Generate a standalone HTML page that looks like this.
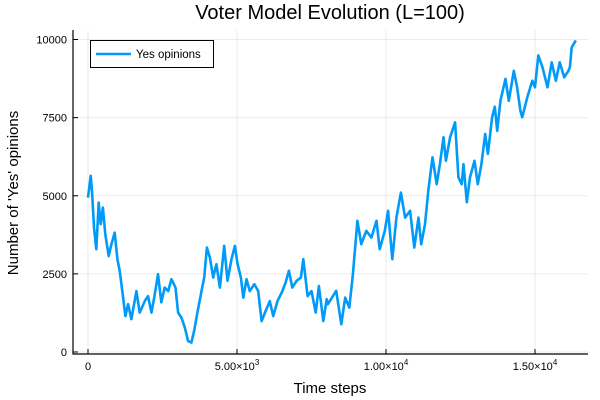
<!DOCTYPE html>
<html><head><meta charset="utf-8"><style>
html,body{margin:0;padding:0;background:#fff;}
svg{display:block;font-family:"Liberation Sans","DejaVu Sans",sans-serif;}
</style></head><body>
<svg id="chart" width="600" height="400" viewBox="0 0 600 400">
<text x="330" y="19" text-anchor="middle" font-size="20" fill="#000">Voter Model Evolution (L=100)</text>
<g id="grid"></g>
<g id="axes"></g>
<path id="series" fill="none" stroke="#009af9" stroke-width="2.6" stroke-linejoin="round"/>
<text x="330" y="393" text-anchor="middle" font-size="15">Time steps</text>
<text transform="translate(18,193) rotate(-90)" text-anchor="middle" font-size="15">Number of 'Yes' opinions</text>
<g>
<rect x="90.5" y="40.5" width="123" height="27" fill="#fff" stroke="#000" stroke-width="1"/>
<line x1="96" y1="54" x2="131" y2="54" stroke="#009af9" stroke-width="2.6"/>
<text x="136" y="58" font-size="11.5">Yes opinions</text>
</g>
</svg>
<script>
const steps=[0,90,135,200,280,360,425,500,580,695,785,895,985,1065,1150,1255,1345,1455,1625,1735,1905,2015,2130,2240,2350,2460,2575,2690,2800,2935,3025,3135,3250,3360,3470,3560,3670,3810,3900,3990,4090,4200,4310,4425,4570,4680,4815,4930,5020,5130,5210,5320,5430,5580,5710,5825,5960,6100,6215,6360,6500,6630,6740,6855,7000,7145,7225,7370,7500,7640,7750,7895,8010,8050,8330,8500,8630,8770,8890,9040,9170,9340,9510,9680,9790,9960,10070,10210,10350,10500,10640,10810,10950,11090,11180,11310,11420,11560,11700,11810,11930,12010,12150,12320,12430,12540,12600,12710,12820,12970,13080,13200,13330,13420,13560,13650,13730,13840,14010,14120,14290,14400,14510,14570,14740,14910,15000,15110,15250,15420,15560,15700,15830,15980,16120,16170,16230,16370];
const yesCounts=[4940,5640,5150,3980,3290,4780,4090,4620,3770,3070,3450,3820,2970,2600,1950,1150,1530,1050,1950,1260,1630,1790,1260,1850,2490,1590,2060,1950,2330,2060,1260,1100,780,350,300,670,1260,1950,2380,3340,3020,2380,2810,2060,3400,2280,2970,3400,2810,2380,1740,2330,1950,2170,1950,990,1310,1630,1150,1630,1900,2220,2600,2060,2280,2380,2970,1790,1950,1260,2110,990,1690,1530,1960,890,1740,1420,2490,4200,3450,3880,3660,4200,3290,3880,4520,2970,4300,5100,4300,4520,3340,4300,3450,4090,5160,6230,5370,6010,6870,6120,6870,7350,5590,5370,6010,4790,5590,6120,5370,6010,6980,6340,7510,7850,7080,8040,8740,8040,9000,8470,7720,7510,8150,8680,8470,9490,9110,8470,9270,8680,9270,8790,9000,9110,9750,9970];
const xTicks=[0,5000,10000,15000];
const xTickLabels=["0","5.00×10^3","1.00×10^4","1.50×10^4"];
const yTicks=[0,2500,5000,7500,10000];
const yTickLabels=["0","2500","5000","7500","10000"];
const NS="http://www.w3.org/2000/svg";
const X=t=>88+t*0.0298, Y=v=>352-v*0.03125;
const L=73,R=588,T=30,B=354;
const grid=document.getElementById('grid'), axes=document.getElementById('axes');
function mk(tag,at,parent){const e=document.createElementNS(NS,tag);for(const k in at)e.setAttribute(k,at[k]);parent.appendChild(e);return e;}
yTicks.forEach((v,i)=>{
 const g=mk('line',{x1:L,x2:R,y1:Y(v),y2:Y(v),stroke:'#000','stroke-opacity':0.08,'stroke-width':1},grid);
 
 
 const tk=mk('line',{x1:L,x2:L+5,y1:Y(v),y2:Y(v),stroke:'#000','stroke-width':1},axes);
 
 
 const lb=mk('text',{x:L-6,y:Y(v)+4,'text-anchor':'end','font-size':11},axes);
 lb.textContent=yTickLabels[i];
 
 
});
xTicks.forEach((t,i)=>{
 const g=mk('line',{x1:X(t),x2:X(t),y1:T,y2:B,stroke:'#000','stroke-opacity':0.08,'stroke-width':1},grid);
 
 
 const tk=mk('line',{x1:X(t),x2:X(t),y1:B,y2:B-5,stroke:'#000','stroke-width':1},axes);
 
 
 const lb=mk('text',{x:X(t),y:B+16,'text-anchor':'middle','font-size':11},axes);
 const parts=xTickLabels[i].split('^');
 lb.textContent=parts[0];
 if(parts[1]){const s=mk('tspan',{dy:-5,'font-size':8},lb);s.textContent=parts[1];}
 
 
});
const ax=mk('path',{d:`M${L} ${T}V${B}H${R}`,fill:'none',stroke:'#000','stroke-width':1.2},axes);


document.getElementById('series').setAttribute('d',steps.map((t,i)=>(i?'L':'M')+X(t).toFixed(1)+' '+Y(yesCounts[i]).toFixed(1)).join(''));
</script>
</body></html>
